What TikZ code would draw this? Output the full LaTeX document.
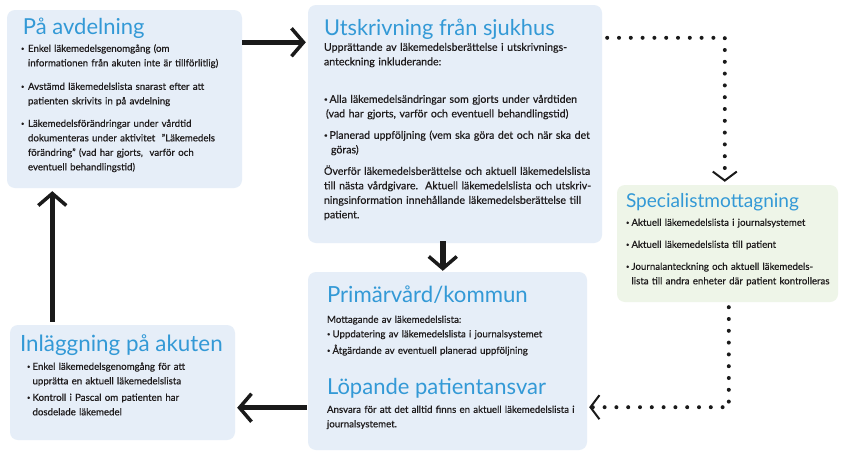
\documentclass[tikz,border=0pt]{standalone}
\usepackage{fontspec}
\usepackage{graphicx}
\setmainfont{Lato}
\newfontfamily\bodyfont{Lato}[BoldFont={Lato}, BoldFeatures={FakeBold=0.5}]
\usetikzlibrary{arrows.meta,calc}
\definecolor{boxblue}{HTML}{E6EEF8}
\definecolor{boxgreen}{HTML}{EEF5E8}
\definecolor{titleblue}{HTML}{3399D6}
\definecolor{txt}{HTML}{1E1B1C}
\definecolor{arrowc}{HTML}{1A1A1A}
\newcommand{\bp}[1][5.5pt]{\makebox[#1][l]{\raisebox{0.13em}{\scalebox{0.6}{•}}}}
\newcommand{\tsize}[1]{\fontsize{#1}{#1}\selectfont}
\begin{document}
\begin{tikzpicture}[x=1pt,y=-1pt,
  box/.style={draw=none, fill=boxblue, rounded corners=8pt, inner sep=0pt},
  gbox/.style={box, fill=boxgreen},
  titletext/.style={anchor=base west, inner sep=0pt, text=titleblue},
  bodytext/.style={anchor=base west, inner sep=0pt, text width=340pt, align=left, text=txt, font=\bodyfont\bfseries\fontsize{9.7}{14.5}\selectfont},
  bigbody/.style={bodytext, font=\bodyfont\bfseries\fontsize{10.6}{14.5}\selectfont},
  solidarrow/.style={draw=arrowc, line width=5.5pt, -{Straight Barb[length=12pt,width=28pt,line width=3.5pt]}},
  dotarrow/.style={draw=arrowc, line width=4pt, line cap=round, dash pattern=on 0pt off 11.8pt, -{Straight Barb[length=9pt,width=24pt,line width=2pt]}}
]
\useasboundingbox (0,0) rectangle (852,466);
\fill[white] (0,0) rectangle (852,466);

% boxes
\node[box, minimum width=235pt, minimum height=178pt] (b1) at (124.5,99) {};
\node[box, minimum width=294pt, minimum height=238pt] (b2) at (455,124) {};
\node[gbox, minimum width=221pt, minimum height=117pt] (b3) at (727.5,243.5) {};
\node[box, minimum width=279pt, minimum height=178pt] (b4) at (447.5,361) {};
\node[box, minimum width=225pt, minimum height=115pt] (b5) at (122.5,382.5) {};

% box 1
\node[titletext, font=\tsize{22}] (t1) at ($(b1.north west)+(16,25)$) {På avdelning};
\node[bodytext] (x1) at ($(b1.north west)+(14,42)$) {%
\bp[7pt]Enkel läkemedelsgenomgång (om\\
\hspace*{7pt}informationen från akuten inte är tillförlitlig)\\[9pt]
\bp[7pt]Avstämd läkemedelslista snarast efter att\\
\hspace*{7pt}patienten skrivits in på avdelning\\[8pt]
\bp[7pt]Läkemedelsförändringar under vårdtid\\
\hspace*{7pt}dokumenteras under aktivitet\ \ ”Läkemedels\\
\hspace*{7pt}förändring” (vad har gjorts,\ \ varför och\\
\hspace*{7pt}eventuell behandlingstid)};

% box 2
\node[titletext, font=\tsize{21.8}] (t2) at ($(b2.north west)+(16,31)$) {Utskrivning från sjukhus};
\node[bigbody] (x2) at ($(b2.north west)+(16,46)$) {%
Upprättande av läkemedelsberättelse i utskrivnings-\\
anteckning inkluderande:\\[23pt]
\bp Alla läkemedelsändringar som gjorts under vårdtiden\\
\hspace*{2pt}(vad har gjorts, varför och eventuell behandlingstid)\\[7pt]
\bp Planerad uppföljning (vem ska göra det och när ska det\\
\hspace*{7pt}göras)\\[7pt]
Överför läkemedelsberättelse och aktuell läkemedelslista\\
till nästa vårdgivare.\ \ Aktuell läkemedelslista och utskriv-\\
ningsinformation innehållande läkemedelsberättelse till\\
patient.};

% box 3
\node[titletext, font=\tsize{19.1}] (t3) at ($(b3.north west)+(9,23)$) {Specialistmottagning};
\node[bodytext] (x3) at ($(b3.north west)+(9,41)$) {%
\bp Aktuell läkemedelslista i journalsystemet\\[7.5pt]
\bp Aktuell läkemedelslista till patient\\[7.5pt]
\bp Journalanteckning och aktuell läkemedels-\\
\hspace*{5.5pt}lista till andra enheter där patient kontrolleras};

% box 4
\node[titletext, font=\tsize{22.2}] (t4) at ($(b4.north west)+(19,31)$) {Primärvård/kommun};
\node[bodytext] (x4) at ($(b4.north west)+(19,51)$) {%
Mottagande av läkemedelslista:\\
\bp Uppdatering av läkemedelslista i journalsystemet\\[2pt]
\bp Åtgärdande av eventuell planerad uppföljning};
\node[titletext, font=\tsize{22}] (t4b) at ($(b4.north west)+(19,123)$) {Löpande patientansvar};
\node[bodytext] (x4b) at ($(b4.north west)+(19,141)$) {%
Ansvara för att det alltid finns en aktuell läkemedelslista i\\
journalsystemet.};

% box 5
\node[titletext, font=\tsize{22.4}] (t5) at ($(b5.north west)+(10,27)$) {Inläggning på akuten};
\node[bodytext] (x5) at ($(b5.north west)+(17,45)$) {%
\bp Enkel läkemedelsgenomgång för att\\
\hspace*{5.5pt}upprätta en aktuell läkemedelslista\\[2pt]
\bp Kontroll i Pascal om patienten har\\
\hspace*{5.5pt}dosdelade läkemedel};

% solid connectors
\draw[solidarrow] ($(b1.north east)+(0,32.5)$) -- ($(b2.north west)+(-2,37.5)$);
\draw[solidarrow] ($(b5.north west)+(42.5,-3)$) -- ($(b1.south west)+(45.5,3)$);
\draw[solidarrow] ($(b2.south west)+(135,-2)$) -- ($(b4.north west)+(135,-1)$);
\draw[solidarrow] ($(b4.south west)+(-1,-42.5)$) -- ($(b5.south east)+(2,-32.5)$);

% dotted connectors
\draw[dotarrow] ($(b2.north east)+(5,33)$) -| ($(b3.north west)+(108,-3)$);
\draw[dotarrow] ($(b3.south west)+(112,5)$) |- ($(b4.south east)+(2,-43)$);
\end{tikzpicture}
\end{document}
